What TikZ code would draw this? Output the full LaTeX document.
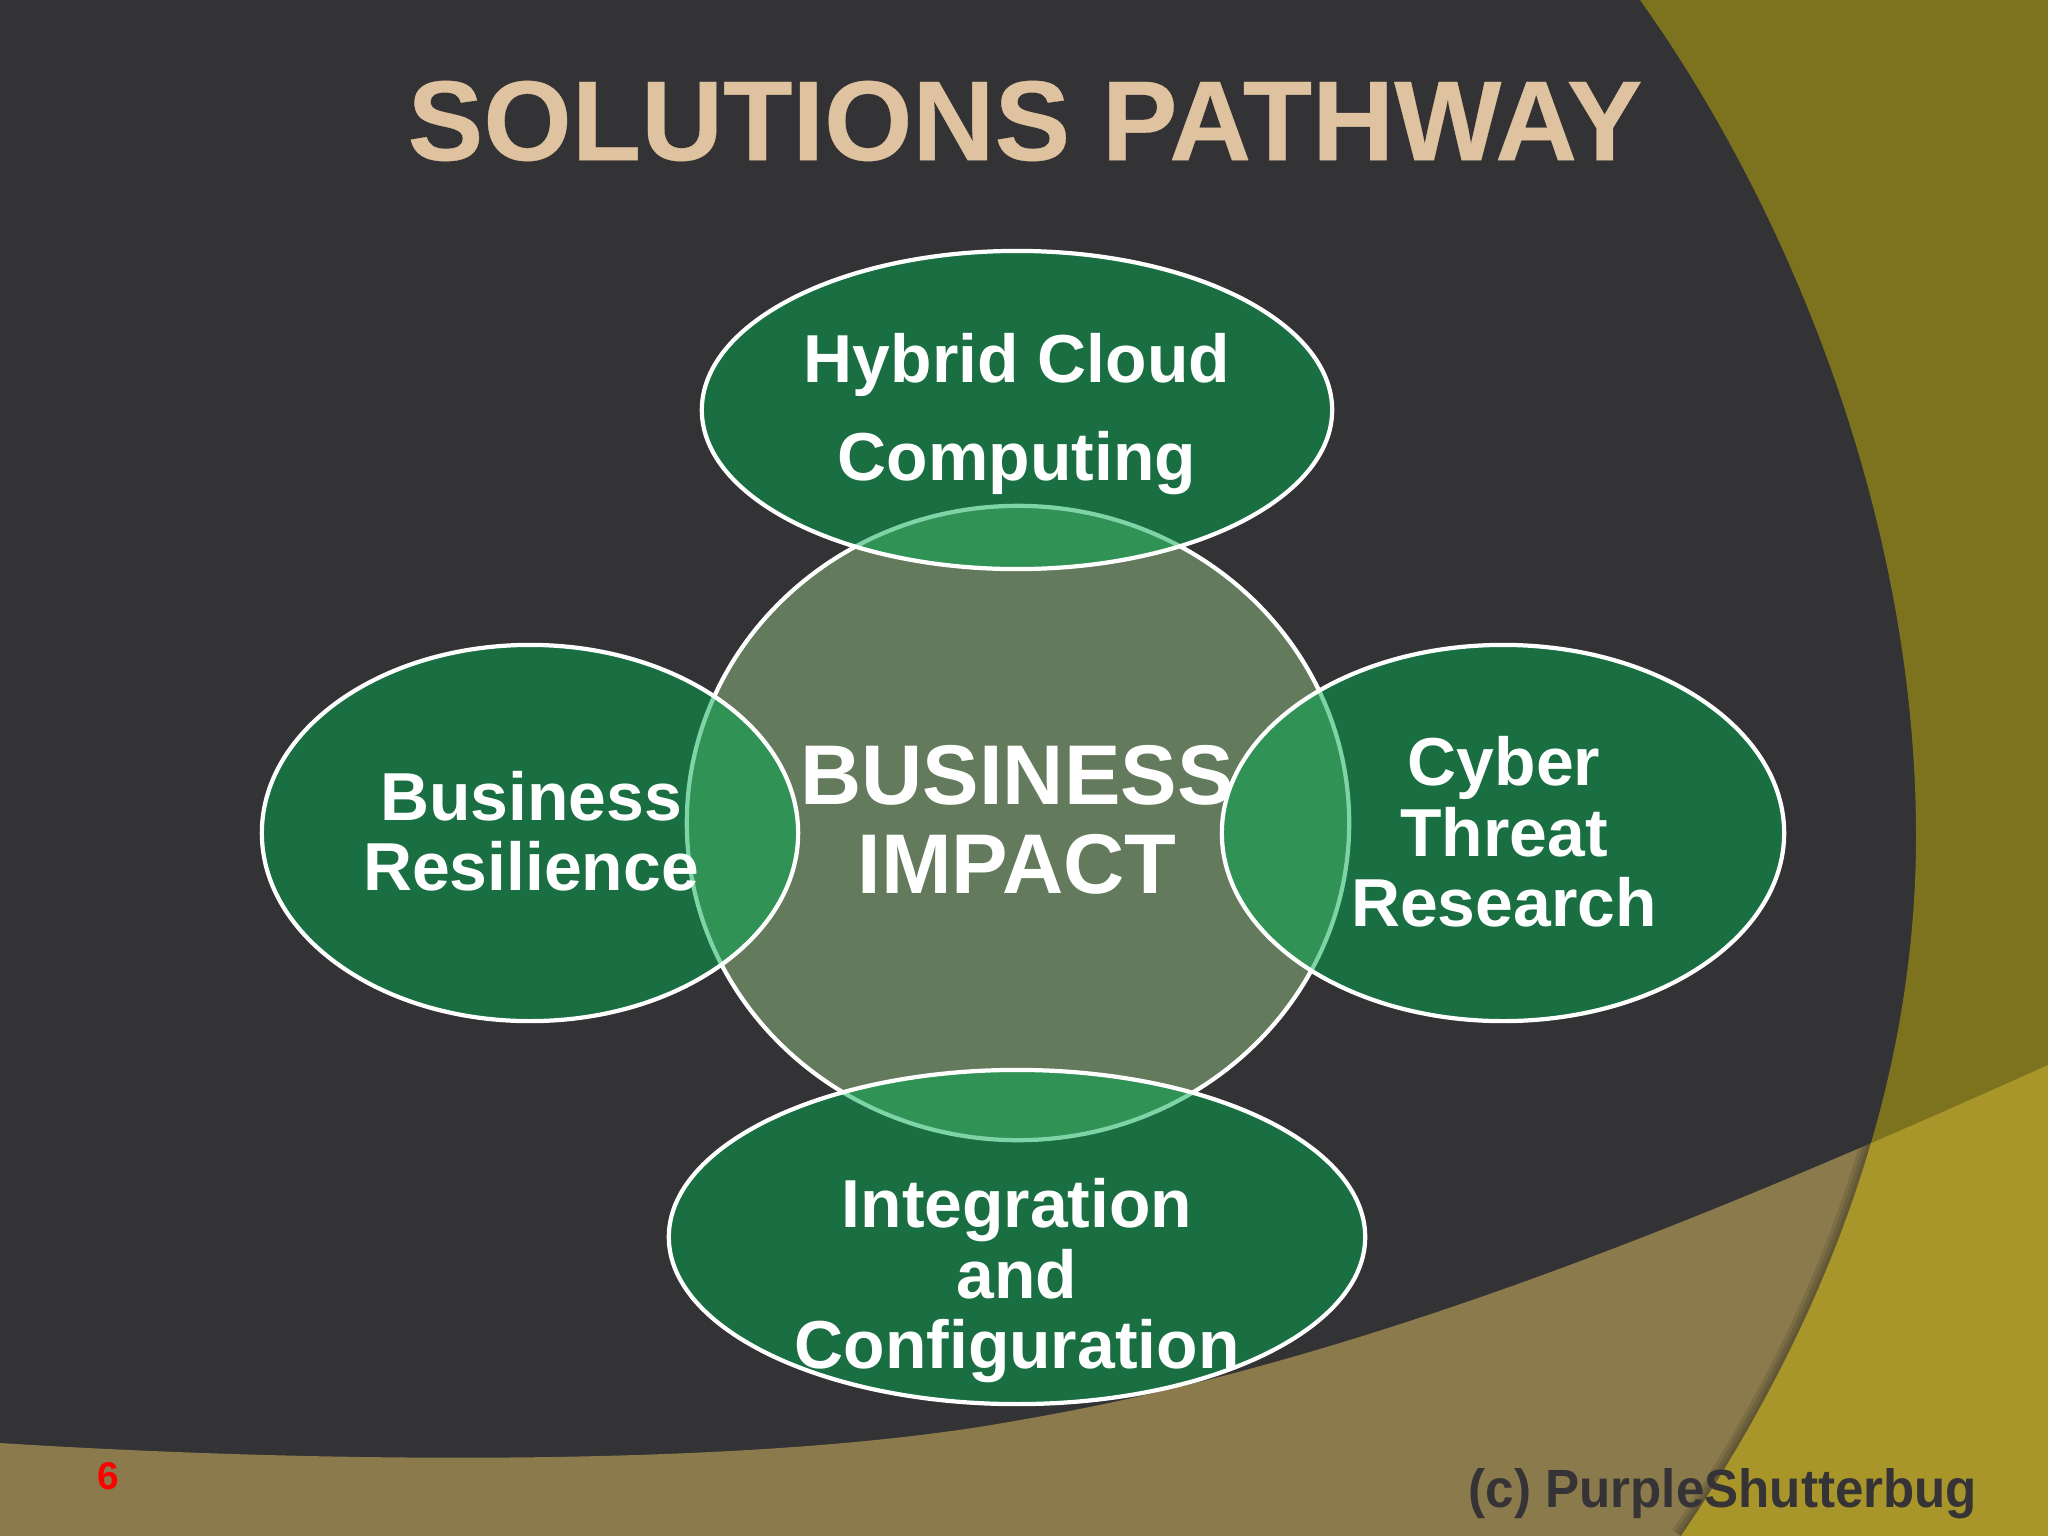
\documentclass[tikz,border=0pt]{standalone}
\usepackage{fontspec}
\setmainfont{Liberation Sans}
\newfontfamily\titleFont[BoldFeatures={FakeBold=0.3}]{Liberation Sans}
\usetikzlibrary{shapes.geometric}
\definecolor{slideDark}{HTML}{333234}
\definecolor{slideOlive}{HTML}{7D731E}
\definecolor{slideTan}{HTML}{8A7A4C}
\definecolor{slideYellow}{HTML}{A8962A}
\definecolor{hubFill}{HTML}{647A5C}
\definecolor{petalFill}{HTML}{00AA50}
\definecolor{titleTan}{HTML}{DFC3A0}
\definecolor{stampGrey}{HTML}{363337}
\tikzstyle{labeledHub}=[shape = ellipse, inner sep = 0pt, outer sep = 0pt, draw = white, line width = 1.2pt, fill = hubFill]
\tikzstyle{labeledPetal}=[shape = ellipse, inner sep = 0pt, outer sep = 0pt, draw = white, line width = 1.2pt, fill = petalFill, fill opacity = 0.5, draw opacity = 1]
\tikzstyle{petalText}=[align = center, text = white, inner sep = 0pt, font = \fontsize{19.3}{20.06}\selectfont\bfseries]
\newcommand{\arcLine}{(1640,0) .. controls (1790,210) and (1916,520) .. (1916,836) .. controls (1916,1100) and (1815,1340) .. (1681,1536)}
\newcommand{\swooshLine}{(0,1443) .. controls (300,1462) and (750,1470) .. (1020,1420) .. controls (1360,1362) and (1708,1218) .. (2048,1065)}
\begin{document}
\begin{tikzpicture}[x = 0.01cm, y = -0.01cm]
\useasboundingbox (0,0) rectangle (2048,1536);
\clip (0,0) rectangle (2048,1536);
\fill[slideDark] (0,0) rectangle (2048,1536);
\fill[slideTan] \swooshLine -- (2048,1536) -- (0,1536) -- cycle;
\begin{scope}
\clip \swooshLine -- (2048,1536) -- (0,1536) -- cycle;
\foreach \w in {2,4,6}
  \draw[black, opacity = 0.1, line width = \w pt] \arcLine;
\end{scope}
\fill[slideOlive] \arcLine -- (2048,1536) -- (2048,0) -- cycle;
\begin{scope}
\clip \arcLine -- (2048,1536) -- (2048,0) -- cycle;
\fill[slideYellow] \swooshLine -- (2048,1536) -- (0,1536) -- cycle;
\end{scope}
\node[text = titleTan, inner sep = 0pt, font = \fontsize{32.3}{36}\titleFont\bfseries] (title) at (1025,121) {SOLUTIONS PATHWAY};
\node[labeledHub, minimum width = 6.62cm, minimum height = 6.34cm] (vHub) at (1018,823) {};
\node[align = center, text = white, inner sep = 0pt, font = \fontsize{24.1}{25.3}\selectfont\bfseries] (tHub) at (1017,820) {BUSINESS\\IMPACT};
\node[labeledPetal, minimum width = 6.30cm, minimum height = 3.18cm] (vCloud) at (1017,410) {};
\node[labeledPetal, minimum width = 5.36cm, minimum height = 3.76cm] (vResilience) at (530,833) {};
\node[labeledPetal, minimum width = 5.62cm, minimum height = 3.76cm] (vCyber) at (1503,833) {};
\node[labeledPetal, minimum width = 6.96cm, minimum height = 3.34cm] (vIntegration) at (1017,1237) {};
\node[petalText, font = \fontsize{19.3}{27.9}\selectfont\bfseries] (tCloud) at (1017,414) {Hybrid Cloud\\Computing};
\node[petalText] (tResilience) at (531,831) {Business\\Resilience};
\node[petalText] (tCyber) at (1504,832) {Cyber\\Threat\\Research};
\node[petalText] (tIntegration) at (1017,1281) {Integration\\and\\Configuration};
\node[text = red, inner sep = 0pt, font = \fontsize{11}{13}\selectfont\bfseries] (vPage) at (108,1476) {6};
\node[text = stampGrey, inner sep = 0pt, xscale = 0.95, transform shape, font = \fontsize{15.3}{18}\selectfont\bfseries] (vStamp) at (1723,1494) {(c) PurpleShutterbug};
\end{tikzpicture}
\end{document}
